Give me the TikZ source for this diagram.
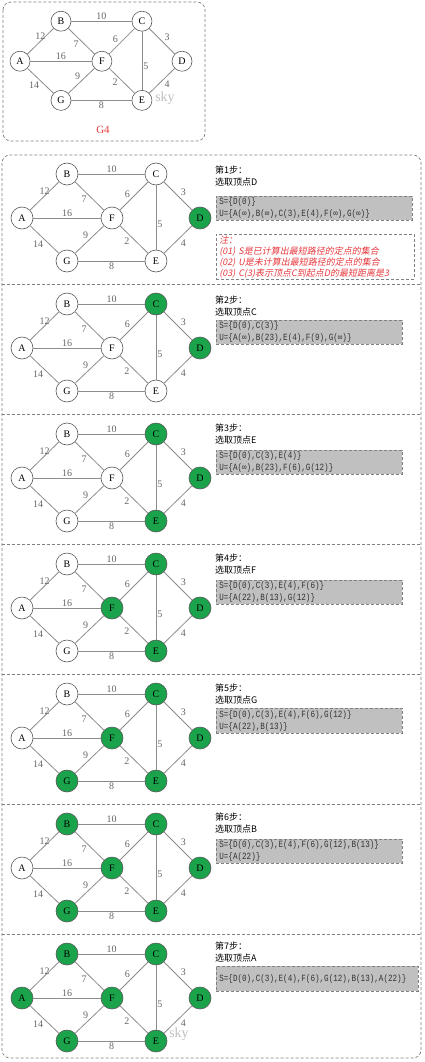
\documentclass[tikz,border=0pt]{standalone}
\usepackage{fontspec}
\usepackage{xstring}
\setmainfont{Liberation Serif}
\newfontfamily\cjk{Noto Sans CJK SC}
\newfontfamily\cjkslant[FakeSlant=0.2]{Noto Sans CJK SC}
\newfontfamily\setfont[FakeStretch=0.8]{Liberation Mono}
\definecolor{vgreen}{HTML}{1AA34A}
\definecolor{boxgray}{HTML}{C0C0C0}
\definecolor{dashgray}{HTML}{808080}
\definecolor{edgegray}{HTML}{8C8C8C}
\definecolor{notered}{HTML}{E8383D}

% graph G4: #1 name prefix, #2 scope options, #3 vertices already chosen
\newcommand{\gfour}[3]{%
  \begin{scope}[#2]
    \foreach \v/\x/\y in {A/22/64,B/67/20,C/156/20,D/200/64,E/156/107,F/112/64,G/67/107}{
      \IfSubStr{#3}{\v}{\def\vcol{vgreen}}{\def\vcol{white}}
      \node[vertex, fill=\vcol] (#1\v) at (\x,\y) {\v};
    }
    \foreach \a/\b/\w/\wp/\an in {A/B/12/0.5/south, B/C/10/0.5/south,
        B/F/7/0.45/north east, C/F/6/0.6/south east, C/D/3/0.55/south west,
        A/F/16/0.5/south, C/E/5/0.6/west, G/F/9/0.5/south east,
        F/E/2/0.38/north east, D/E/4/0.45/north west, A/G/14/0.5/north east,
        G/E/8/0.5/north}
      \draw[edge] (#1\a) -- node[wlabel, pos=\wp, anchor=\an] {\w} (#1\b);
  \end{scope}}

\begin{document}
\begin{tikzpicture}[x=1pt,y=-1pt]
  \tikzset{
    vertex/.style={circle, draw=black!65, line width=0.6pt, minimum size=22pt,
      inner sep=0pt, font=\fontsize{10}{12}\selectfont},
    edge/.style={draw=edgegray, line width=0.8pt},
    wlabel/.style={inner sep=1pt, text=black!60, font=\fontsize{10}{12}\selectfont},
    frame/.style={draw=dashgray, line width=0.7pt, dash pattern=on 3pt off 2pt},
    setbox/.style={frame, fill=boxgray, anchor=north west, inner xsep=3pt,
      inner ysep=0pt, align=left, text=black!80, font=\setfont\fontsize{9.5}{12}\selectfont},
    notebox/.style={frame, fill=white, anchor=north west, inner xsep=3pt,
      inner ysep=0pt, align=left, text=notered, font=\cjkslant\fontsize{9}{11}\selectfont},
    steptext/.style={anchor=west, inner sep=0pt, align=left,
      font=\cjk\fontsize{9}{12}\selectfont},
    watermark/.style={text=black!25, font=\fontsize{14}{14}\selectfont}
  }
  \useasboundingbox (0,0) rectangle (424,1062);

  % the graph G4
  \draw[frame, rounded corners=8pt] (3,2) rectangle (205,141);
  \node[watermark] (wm0) at (165,98) {sky};
  \gfour{t}{shift={(0,3)}, scale=0.91, vertex/.append style={minimum size=20pt}}{}
  \node[text=notered, font=\fontsize{11}{13}\selectfont] (g4) at (103,130) {G4};

  % the seven steps
  \draw[frame, rounded corners=8pt] (2,155) rectangle (421,1058);
  \foreach \o in {284,414,544,674,804,934}
    \draw[frame] (2,\o) -- (421,\o);
  \node[watermark] (wm7) at (179,1034) {sky};
  \foreach \k/\o/\g in {1/154/D, 2/284/DC, 3/414/DCE, 4/544/DCEF,
      5/674/DCEFG, 6/804/DCEFGB, 7/934/DCEFGBA}{
    \gfour{p\k}{shift={(0,\o)}}{\g}
  }

  \node[steptext] (step1) at (215,176.5) {第1步：\\选取顶点D};
  \node[setbox, text width=190pt, minimum height=24pt] (set1) at (216,196)
    {S=\{D(0)\}\\U=\{A(∞),B(∞),C(3),E(4),F(∞),G(∞)\}};
  \node[notebox, text width=192pt, minimum height=45pt] (note1) at (216,234)
    {注：\\(01)~S是已计算出最短路径的定点的集合\\(02)~U是未计算出最短路径的定点的集合\\(03)~C(3)表示顶点C到起点D的最短距离是3};

  \node[steptext] (step2) at (215,306.5) {第2步：\\选取顶点C};
  \node[setbox, text width=180pt, minimum height=24pt] (set2) at (216,320)
    {S=\{D(0),C(3)\}\\U=\{A(∞),B(23),E(4),F(9),G(∞)\}};

  \node[steptext] (step3) at (215,434.5) {第3步：\\选取顶点E};
  \node[setbox, text width=180pt, minimum height=24pt] (set3) at (216,450)
    {S=\{D(0),C(3),E(4)\}\\U=\{A(∞),B(23),F(6),G(12)\}};

  \node[steptext] (step4) at (215,564) {第4步：\\选取顶点F};
  \node[setbox, text width=180pt, minimum height=24pt] (set4) at (216,580)
    {S=\{D(0),C(3),E(4),F(6)\}\\U=\{A(22),B(13),G(12)\}};

  \node[steptext] (step5) at (215,694) {第5步：\\选取顶点G};
  \node[setbox, text width=180pt, minimum height=25pt] (set5) at (216,708)
    {S=\{D(0),C(3),E(4),F(6),G(12)\}\\U=\{A(22),B(13)\}};

  \node[steptext] (step6) at (215,823) {第6步：\\选取顶点B};
  \node[setbox, text width=180pt, minimum height=24pt] (set6) at (216,839)
    {S=\{D(0),C(3),E(4),F(6),G(12),B(13)\}\\U=\{A(22)\}};

  \node[steptext] (step7) at (215,952) {第7步：\\选取顶点A};
  \node[setbox, text width=196pt, minimum height=25pt] (set7) at (216,966)
    {S=\{D(0),C(3),E(4),F(6),G(12),B(13),A(22)\}};
\end{tikzpicture}
\end{document}
